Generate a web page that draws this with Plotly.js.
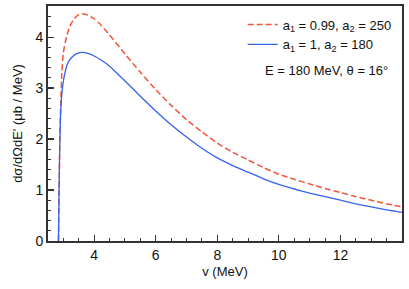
<!DOCTYPE html>
<html>
<head>
<meta charset="utf-8">
<script src="https://cdn.plot.ly/plotly-3.0.1.min.js"></script>
<style>html,body{margin:0;padding:0;background:#fff;}#chart{width:409px;height:289px;}</style>
</head>
<body>
<div id="chart"></div>
<script>
var vRed = [2.84, 2.86, 2.88, 2.91, 2.95, 3.0, 3.1, 3.2, 3.35, 3.5, 3.6, 3.75, 4.0, 4.2, 4.5, 5.0, 5.5, 6.0, 6.5, 7.0, 7.5, 8.0, 8.5, 9.0, 9.5, 10.0, 10.5, 11.0, 11.5, 12.0, 12.5, 13.0, 13.5, 14.0];
var sigmaRed = [0, 1.0, 1.85, 2.6, 3.3, 3.7, 4.0, 4.2, 4.36, 4.44, 4.46, 4.44, 4.36, 4.25, 4.04, 3.67, 3.31, 2.97, 2.66, 2.38, 2.14, 1.92, 1.74, 1.59, 1.44, 1.31, 1.21, 1.12, 1.03, 0.95, 0.87, 0.80, 0.73, 0.67];
var vBlue = [2.84, 2.86, 2.88, 2.91, 2.96, 3.05, 3.15, 3.3, 3.45, 3.62, 3.8, 4.0, 4.2, 4.5, 5.0, 5.5, 6.0, 6.5, 7.0, 7.5, 8.0, 8.5, 9.0, 9.5, 10.0, 10.5, 11.0, 11.5, 12.0, 12.5, 13.0, 13.5, 14.0];
var sigmaBlue = [0, 1.0, 1.8, 2.5, 2.95, 3.3, 3.5, 3.62, 3.68, 3.70, 3.68, 3.63, 3.56, 3.43, 3.14, 2.84, 2.55, 2.28, 2.04, 1.82, 1.63, 1.48, 1.35, 1.22, 1.11, 1.02, 0.94, 0.87, 0.80, 0.73, 0.67, 0.61, 0.56];
var seriesNames = ["a<sub>1</sub> = 0.99, a<sub>2</sub> = 250", "a<sub>1</sub> = 1, a<sub>2</sub> = 180"];
var xTicks = [4, 6, 8, 10, 12];
var yTicks = [0, 1, 2, 3, 4];
var annotationText = "E = 180 MeV, θ = 16°";

var font = "Liberation Sans, Arial, Helvetica, sans-serif";
var traces = [
  {x: vRed, y: sigmaRed, type: "scatter", mode: "lines", name: seriesNames[0],
   line: {color: "#f2553a", width: 1.5, dash: "6px,3px", shape: "spline", smoothing: 0.5}},
  {x: vBlue, y: sigmaBlue, type: "scatter", mode: "lines", name: seriesNames[1],
   line: {color: "#3463ee", width: 1.3, shape: "spline", smoothing: 0.5}}
];
var axisCommon = {
  showline: true, linecolor: "#333", linewidth: 2, mirror: true,
  ticks: "inside", ticklen: 6, tickwidth: 1.2, tickcolor: "#333",
  showgrid: false, zeroline: false,
  tickfont: {family: font, size: 14, color: "#111"}
};
var layout = {
  width: 409, height: 289,
  margin: {l: 48, r: 7, t: 6, b: 48},
  paper_bgcolor: "#fff", plot_bgcolor: "#fff",
  showlegend: true,
  legend: {x: 0.985, y: 0.985, xanchor: "right", yanchor: "top", bgcolor: "rgba(0,0,0,0)",
           font: {family: font, size: 13, color: "#111"}, tracegroupgap: 0, itemwidth: 30},
  xaxis: Object.assign({}, axisCommon, {
    range: [2.5, 14], tickvals: xTicks, ticktext: xTicks.map(String),
    minor: {dtick: 0.5, tick0: 0, ticks: "inside", ticklen: 3, tickcolor: "#333", tickwidth: 1},
    title: {text: "v (MeV)", font: {family: font, size: 13, color: "#111"}, standoff: 5}
  }),
  yaxis: Object.assign({}, axisCommon, {
    range: [0, 4.61], tickvals: yTicks, ticktext: yTicks.map(String),
    minor: {dtick: 0.2, tick0: 0, ticks: "inside", ticklen: 3, tickcolor: "#333", tickwidth: 1},
    title: {text: "dσ/dΩdE' (μb / MeV)", font: {family: font, size: 13, color: "#111"}, standoff: 10}
  }),
  annotations: [{
    text: annotationText, xref: "paper", yref: "paper", x: 0.965, y: 0.725,
    xanchor: "right", yanchor: "middle", showarrow: false,
    font: {family: font, size: 13, color: "#111"}
  }]
};
Plotly.newPlot("chart", traces, layout, {displayModeBar: false, staticPlot: true});
</script>
</body>
</html>
